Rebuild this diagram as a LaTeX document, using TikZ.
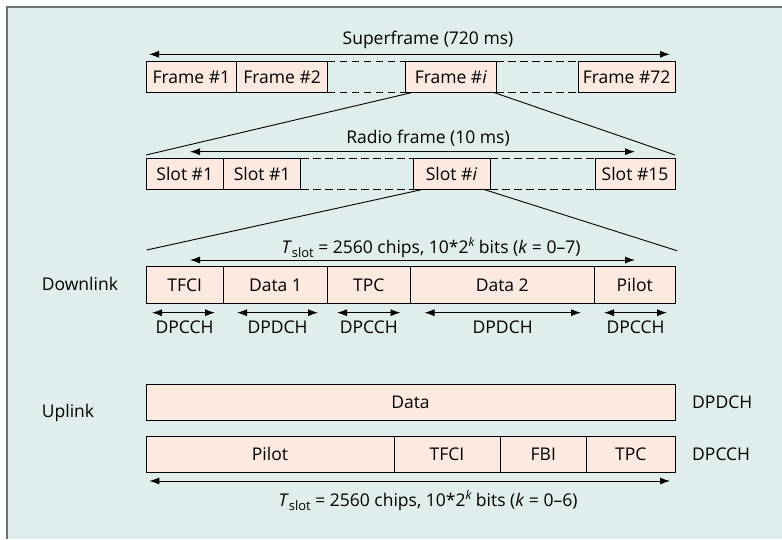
\documentclass[tikz,border=0pt]{standalone}
\usepackage{fontspec}
\setmainfont{Open Sans}
\usetikzlibrary{arrows.meta,calc}
\definecolor{bg}{HTML}{DFEDED}
\definecolor{cellfill}{HTML}{FCEAE0}
\definecolor{rulegray}{HTML}{6B7372}
\newcommand\fs{\fontsize{17.5}{21}\selectfont}
\newcommand\tslot{\textit{T}\raisebox{-4pt}{\fontsize{13}{13}\selectfont slot}}
\newcommand\supk{\raisebox{7pt}{\fontsize{12}{12}\selectfont\itshape k}}
\tikzset{
  cell/.style={draw=black, line width=0.9pt, fill=cellfill, inner sep=0pt,
    text height=12.5pt, text depth=0pt, font=\fs},
  dimline/.style={{Latex[length=10pt,width=7pt]}-{Latex[length=10pt,width=7pt]}, line width=0.9pt},
  zoomline/.style={line width=0.9pt},
  gapline/.style={dash pattern=on 7.5pt off 4.5pt, line width=0.9pt},
  lbl/.style={anchor=base, inner sep=0pt, font=\fs},
  sidelbl/.style={anchor=base west, inner sep=0pt, font=\fs},
}
\begin{document}
\begin{tikzpicture}[x=1pt,y=-1pt]
\useasboundingbox (0,0) rectangle (782,539);
\fill[white] (0,0) rectangle (782,539);
\fill[bg] (6.5,7.3) rectangle (782,539);
\draw[rulegray, line width=2pt] (6.5,539) -- (6.5,7.3) -- (782,7.3);

% ---- Superframe row
\node[lbl] (suptxt) at (428,44) {Superframe (720 ms)};
\coordinate (supL) at (149,54.3);
\coordinate (supR) at (670,54.3);
\draw[dimline] (supL) -- (supR);
\node[cell, minimum width=90.7pt, minimum height=30.5pt] (f1) at (191.35,77) {Frame \#1};
\node[cell, minimum width=90.8pt, minimum height=30.5pt] (f2) at (282.1,77) {Frame \#2};
\node[cell, minimum width=90.3pt, minimum height=30.5pt] (fi) at (450.85,77) {Frame \#\textit{i}};
\node[cell, minimum width=96.7pt, minimum height=30.5pt] (f72) at (626.65,77) {Frame \#72};
\draw[gapline] (f2.north east) -- (fi.north west);
\draw[gapline] (f2.south east) -- (fi.south west);
\draw[gapline] (fi.north east) -- (f72.north west);
\draw[gapline] (fi.south east) -- (f72.south west);

% ---- Radio frame row
\node[lbl] (radtxt) at (428,143) {Radio frame (10 ms)};
\coordinate (radL) at (190,151.7);
\coordinate (radR) at (635,151.7);
\draw[dimline] (radL) -- (radR);
\node[cell, minimum width=77.5pt, minimum height=30.5pt] (s1) at (184.75,173.75) {Slot \#1};
\node[cell, minimum width=77.2pt, minimum height=30.5pt] (s2) at (262.1,173.75) {Slot \#1};
\node[cell, minimum width=77pt, minimum height=30.5pt] (si) at (451.5,173.75) {Slot \#\textit{i}};
\node[cell, minimum width=80pt, minimum height=30.5pt] (s15) at (635,173.75) {Slot \#15};
\draw[gapline] (s2.north east) -- (si.north west);
\draw[gapline] (s2.south east) -- (si.south west);
\draw[gapline] (si.north east) -- (s15.north west);
\draw[gapline] (si.south east) -- (s15.south west);

% zoom lines frame -> slots
\coordinate (zA) at (146,155);
\coordinate (zB) at (675,155);
\draw[zoomline] ([xshift=6pt]fi.south west) -- (zA);
\draw[zoomline] ([xshift=-2pt]fi.south east) -- (zB);

% ---- Downlink
\node[lbl] (dltxt) at (431,253) {\tslot\ = 2560 chips, 10*2\supk\ bits (\textit{k} = 0–7)};
\coordinate (dlL) at (190,260);
\coordinate (dlR) at (635,260);
\draw[dimline] (dlL) -- (dlR);
\coordinate (zC) at (146.7,250);
\coordinate (zD) at (677,250.7);
\draw[zoomline] ([xshift=10pt]si.south west) -- (zC);
\draw[zoomline] ([xshift=-6.5pt]si.south east) -- (zD);

\node[sidelbl] (dl) at (41.7,290) {Downlink};
\node[cell, minimum width=77.3pt, minimum height=36.6pt] (tfci) at (184.65,285) {TFCI};
\node[cell, minimum width=104.4pt, minimum height=36.6pt] (d1) at (275.5,285) {Data 1};
\node[cell, minimum width=82.3pt, minimum height=36.6pt] (tpc) at (368.85,285) {TPC};
\node[cell, minimum width=184.5pt, minimum height=36.6pt] (d2) at (502.25,285) {Data 2};
\node[cell, minimum width=80.5pt, minimum height=36.6pt] (pil) at (634.75,285) {Pilot};

\coordinate (a1L) at (152,312.7);   \coordinate (a1R) at (215,312.7);
\coordinate (a2L) at (237,312.7);   \coordinate (a2R) at (318,312.7);
\coordinate (a3L) at (337,312.7);   \coordinate (a3R) at (400.5,312.7);
\coordinate (a4L) at (424.5,312.7); \coordinate (a4R) at (581,312.7);
\coordinate (a5L) at (604,312.7);   \coordinate (a5R) at (667,312.7);
\draw[dimline] (a1L) -- (a1R);
\draw[dimline] (a2L) -- (a2R);
\draw[dimline] (a3L) -- (a3R);
\draw[dimline] (a4L) -- (a4R);
\draw[dimline] (a5L) -- (a5R);
\node[lbl] (c1) at (184.5,333) {DPCCH};
\node[lbl] (c2) at (277.5,333) {DPDCH};
\node[lbl] (c3) at (368.8,333) {DPCCH};
\node[lbl] (c4) at (502.7,333) {DPDCH};
\node[lbl] (c5) at (635.5,333) {DPCCH};

% ---- Uplink
\node[sidelbl] (ul) at (41.7,417.5) {Uplink};
\node[cell, minimum width=529pt, minimum height=36.4pt] (udata) at (410.5,402.5) {Data};
\node[sidelbl] (udch) at (692,408.8) {DPDCH};
\node[cell, minimum width=248pt, minimum height=36.3pt] (upil) at (270,454.15) {Pilot};
\node[cell, minimum width=106pt, minimum height=36.3pt] (utfci) at (447,454.15) {TFCI};
\node[cell, minimum width=86.5pt, minimum height=36.3pt] (ufbi) at (543.25,454.15) {FBI};
\node[cell, minimum width=88.5pt, minimum height=36.3pt] (utpc) at (630.75,454.15) {TPC};
\node[sidelbl] (ucch) at (692,460.5) {DPCCH};
\coordinate (ulL) at (149.3,481);
\coordinate (ulR) at (670,481);
\draw[dimline] (ulL) -- (ulR);
\node[lbl] (ultxt) at (428,506) {\tslot\ = 2560 chips, 10*2\supk\ bits (\textit{k} = 0–6)};
\end{tikzpicture}
\end{document}
